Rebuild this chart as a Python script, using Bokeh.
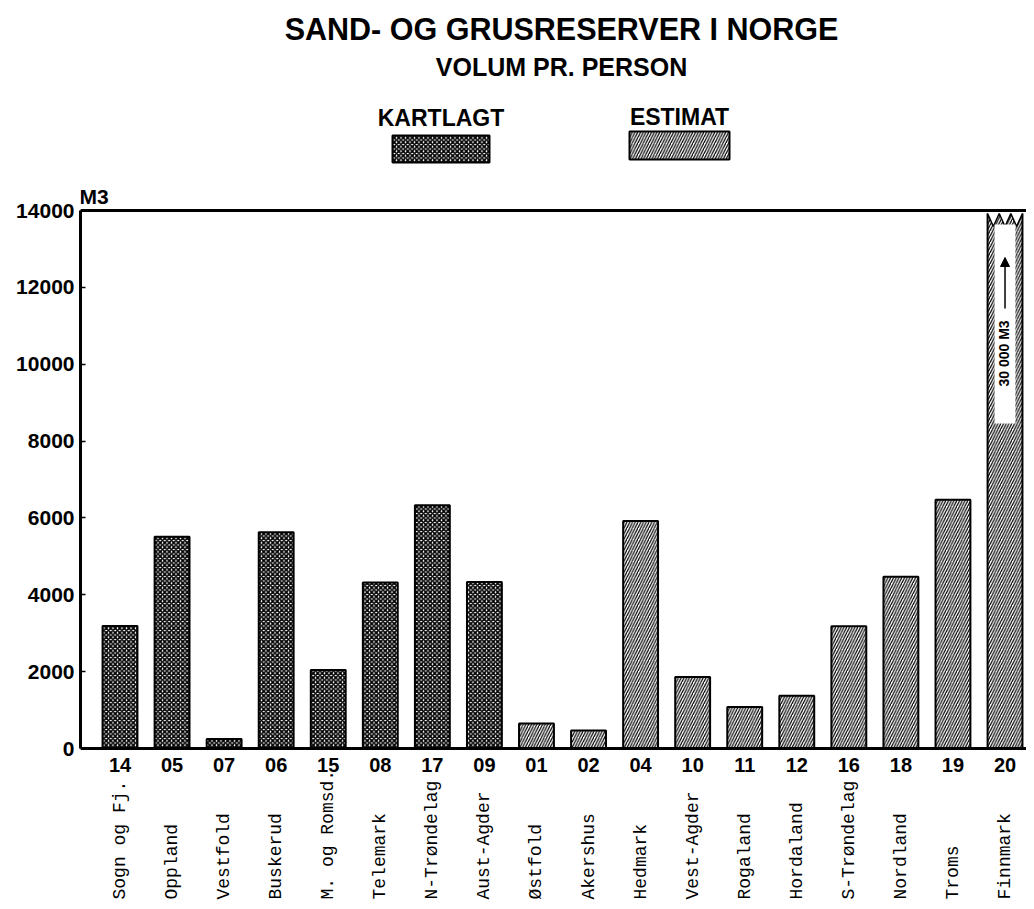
import numpy as np
from bokeh.plotting import figure
from bokeh.models import (Range1d, FixedTicker, Span, ColumnDataSource, Arrow,
                          NormalHead, CDSView, GroupFilter)
from bokeh.core.properties import value
from bokeh.embed import file_html
from bokeh.resources import INLINE

# ---------------- data ----------------
codes = ["14", "05", "07", "06", "15", "08", "17", "09", "01",
         "02", "04", "10", "11", "12", "16", "18", "19", "20"]
names = ["Sogn og Fj.", "Oppland", "Vestfold", "Buskerud", "M. og Romsd.",
         "Telemark", "N-Trøndelag", "Aust-Agder", "Østfold", "Akershus",
         "Hedmark", "Vest-Agder", "Rogaland", "Hordaland", "S-Trøndelag",
         "Nordland", "Troms", "Finnmark"]
volume = [3190, 5510, 250, 5630, 2040, 4320, 6330, 4330, 650,
          470, 5920, 1860, 1080, 1370, 3180, 4470, 6470, 30000]
kind = ["KARTLAGT"] * 8 + ["ESTIMAT"] * 10
y_ticks = [0, 2000, 4000, 6000, 8000, 10000, 12000, 14000]
title = "SAND- OG GRUSRESERVER I NORGE"
subtitle = "VOLUM PR. PERSON"
unit = "M3"
off_scale_note = "30 000 M3"

# ---------------- layout helpers (figure pixel coords) ----------------
W, H = 1026, 901
Y_MAX = 14000
PX_ZERO, PX_TOP = 748, 210          # pixel y of 0 and 14000
k = (PX_ZERO - PX_TOP) / Y_MAX      # px per unit
X0, STEP = 119.5, 52.06             # pixel x of first bar centre, spacing


def ypage(py):
    return (PX_ZERO - py) / k


def xpage(px):
    return (px - X0) / STEP


SANS = value("Liberation Sans")
MONO = value("Liberation Mono")

p = figure(width=W, height=H, output_backend="svg", toolbar_location=None,
           x_axis_location=None, y_axis_location="left",
           x_range=Range1d(xpage(80), xpage(W)),
           y_range=Range1d(ypage(H), ypage(0)),
           min_border_left=80, min_border_right=0, min_border_top=0,
           min_border_bottom=0)
p.outline_line_color = None
p.grid.visible = False
p.background_fill_color = "white"

# ---------------- bars ----------------
cap_top = ypage(213)
idx = np.arange(len(codes))
shown = np.minimum(np.array(volume, dtype=float), cap_top)
src = ColumnDataSource(dict(x=idx, top=shown, kind=kind, code=codes, name=names))

BAR_W = 0.67
hatch_styles = {
    "KARTLAGT": dict(hatch_pattern="x", hatch_scale=4.5, hatch_weight=1.7),
    "ESTIMAT": dict(hatch_pattern="/", hatch_scale=5.5, hatch_weight=1.2),
}
for kname, hs in hatch_styles.items():
    view = CDSView(filter=GroupFilter(column_name="kind", group=kname))
    p.vbar(x="x", top="top", bottom=0, width=BAR_W, source=src, view=view,
           fill_color="white", line_color="black", line_width=2,
           hatch_color="black", **hs)

# off-scale bar: zigzag cut at top, white window with note and arrow
big = [i for i, v in enumerate(volume) if v > Y_MAX]
for i in big:
    L, R = i - BAR_W / 2, i + BAR_W / 2
    n = 6
    zx = [L + (R - L) * j / n for j in range(n + 1)]
    zy = [cap_top if j % 2 == 0 else ypage(226) for j in range(n + 1)]
    p.patch([L - 0.03] + zx + [R + 0.03], [cap_top + 80] + zy + [cap_top + 80],
            fill_color="white", line_color=None)
    p.line(zx, zy, line_color="black", line_width=1.5)
    p.quad(left=i - 0.2, right=i + 0.2, top=ypage(224), bottom=ypage(423),
           fill_color="white", line_color=None)
    p.add_layout(Arrow(end=NormalHead(size=9, fill_color="black", line_color="black"),
                       x_start=i, y_start=ypage(308), x_end=i, y_end=ypage(257),
                       line_width=1.5, line_color="black"))
    p.text(x=[i - 0.02], y=[ypage(353)], text=[off_scale_note], angle=np.pi / 2,
           text_align="center", text_baseline="middle", text_font=SANS,
           text_font_style="bold", text_font_size="14px", text_color="black")

# ---------------- axes / frame lines ----------------
p.add_layout(Span(location=0, dimension="width", line_color="black", line_width=3))
p.add_layout(Span(location=Y_MAX, dimension="width", line_color="black", line_width=3))

ax = p.yaxis[0]
ax.bounds = (0, Y_MAX)
ax.ticker = FixedTicker(ticks=y_ticks)
ax.axis_line_width = 3
ax.axis_line_color = "black"
ax.major_tick_in = 5
ax.major_tick_out = 0
ax.major_tick_line_width = 1.5
ax.minor_tick_line_color = None
ax.major_label_standoff = 6
ax.major_label_text_font = "Liberation Sans"
ax.major_label_text_font_style = "bold"
ax.major_label_text_font_size = "21px"
ax.major_label_text_color = "black"

# category labels: district codes and names
p.text(x="x", y=ypage(764.5), text="code", source=src, text_align="center",
       text_baseline="middle", text_font=SANS, text_font_style="bold",
       text_font_size="20px", text_color="black")
p.text(x="x", y=ypage(899), text="name", source=src, angle=np.pi / 2,
       text_align="left", text_baseline="middle", text_font=MONO,
       text_font_size="18px", text_color="black")

# ---------------- titles, unit, legend ----------------
p.text(x=[xpage(561)], y=[ypage(28)], text=[title], text_align="center",
       text_baseline="middle", text_font=SANS, text_font_style="bold",
       text_font_size="30.5px", text_color="black")
p.text(x=[xpage(561)], y=[ypage(66.5)], text=[subtitle], text_align="center",
       text_baseline="middle", text_font=SANS, text_font_style="bold",
       text_font_size="25px", text_color="black")
p.text(x=[xpage(79)], y=[ypage(195.5)], text=[unit], text_align="left",
       text_baseline="middle", text_font=SANS, text_font_style="bold",
       text_font_size="21px", text_color="black")

legend_pos = {"KARTLAGT": (392, 489, 135, 162, 117.5),
              "ESTIMAT": (629, 729, 131, 159, 116)}
for kname, (l, r, t, b, mid) in legend_pos.items():
    p.quad(left=xpage(l), right=xpage(r), top=ypage(t), bottom=ypage(b),
           fill_color="white", line_color="black", line_width=2,
           hatch_color="black", **hatch_styles[kname])
    p.text(x=[xpage((l + r) / 2)], y=[ypage(mid)], text=[kname],
           text_align="center", text_baseline="middle", text_font=SANS,
           text_font_style="bold", text_font_size="23px", text_color="black")

open("out.html", "w").write(file_html(p, INLINE))
